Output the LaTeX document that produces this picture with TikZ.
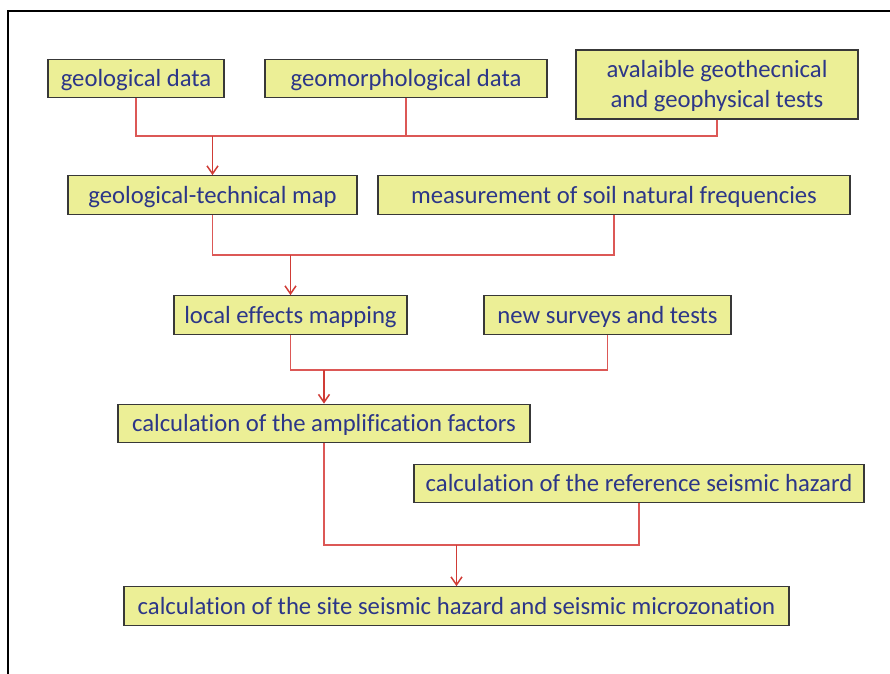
\documentclass[tikz,border=0pt]{standalone}
\usepackage{fontspec}
\setmainfont{Carlito}[Ligatures=NoCommon]
\usepackage{xcolor}
\usetikzlibrary{arrows.meta}
\definecolor{boxfill}{RGB}{236,239,150}
\definecolor{boxtext}{RGB}{44,54,136}
\definecolor{linkred}{RGB}{220,88,86}
\definecolor{flowred}{RGB}{208,60,54}

\begin{document}
\begin{tikzpicture}[x=1pt, y=-1pt,
  box/.style={draw=black!78, line width=1.2pt, fill=boxfill, text=boxtext,
              font=\fontsize{24.7}{30}\selectfont, inner sep=0pt,
              text height=19.8pt, text depth=3pt, minimum height=38.5pt},
  link/.style={linkred, line width=1.2pt},
  flow/.style={flowred, line width=1.5pt, -{Straight Barb[length=8pt, width=11pt]}}]
  \useasboundingbox (0,0) rectangle (890,673);
  % frame
  \draw[line width=2.5pt] (893,11) -- (8,11) -- (8,676);
  % input data
  \node[box, minimum width=176pt] (geo) at (136,78.5) {geological data};
  \node[box, minimum width=282pt] (geomorph) at (406,78.5) {geomorphological data};
  \node[box, minimum width=282pt, minimum height=69pt, align=center,
        text height=49pt, text depth=4pt] (avail) at (717,84.5)
        {avalaible geothecnical\\and geophysical tests};
  % second level
  \node[box, minimum width=289pt] (map) at (212.5,195) {geological-technical map};
  \node[box, minimum width=472pt] (freq) at (614,195) {measurement of soil natural frequencies};
  % third level
  \node[box, minimum width=233pt] (local) at (290.5,315) {local effects mapping};
  \node[box, minimum width=247pt] (surveys) at (607.5,315) {new surveys and tests};
  % hazard
  \node[box, minimum width=412pt] (ampl) at (324,423.5) {calculation of the amplification factors};
  \node[box, minimum width=450pt] (ref) at (639,483.5) {calculation of the reference seismic hazard};
  \node[box, minimum width=665pt] (site) at (456.5,606)
        {calculation of the site seismic hazard and seismic microzonation};
  % junctions
  \coordinate (j1) at (212.5,136);
  \coordinate (j2) at (290.5,255);
  \coordinate (j3) at (324,370);
  \coordinate (j4) at (456.5,545);
  % connectors
  \draw[link] (geo) |- (j1) -| (avail);
  \draw[link] (geomorph) -- (geomorph |- j1);
  \draw[flow] (j1) -- (map);
  \draw[link] (map) |- (j2) -| (freq);
  \draw[flow] (j2) -- (local);
  \draw[link] (local) |- (j3) -| (surveys);
  \draw[flow] (j3) -- (ampl);
  \draw[link] (ampl) |- (j4) -| (ref);
  \draw[flow] (j4) -- (site);
\end{tikzpicture}
\end{document}
